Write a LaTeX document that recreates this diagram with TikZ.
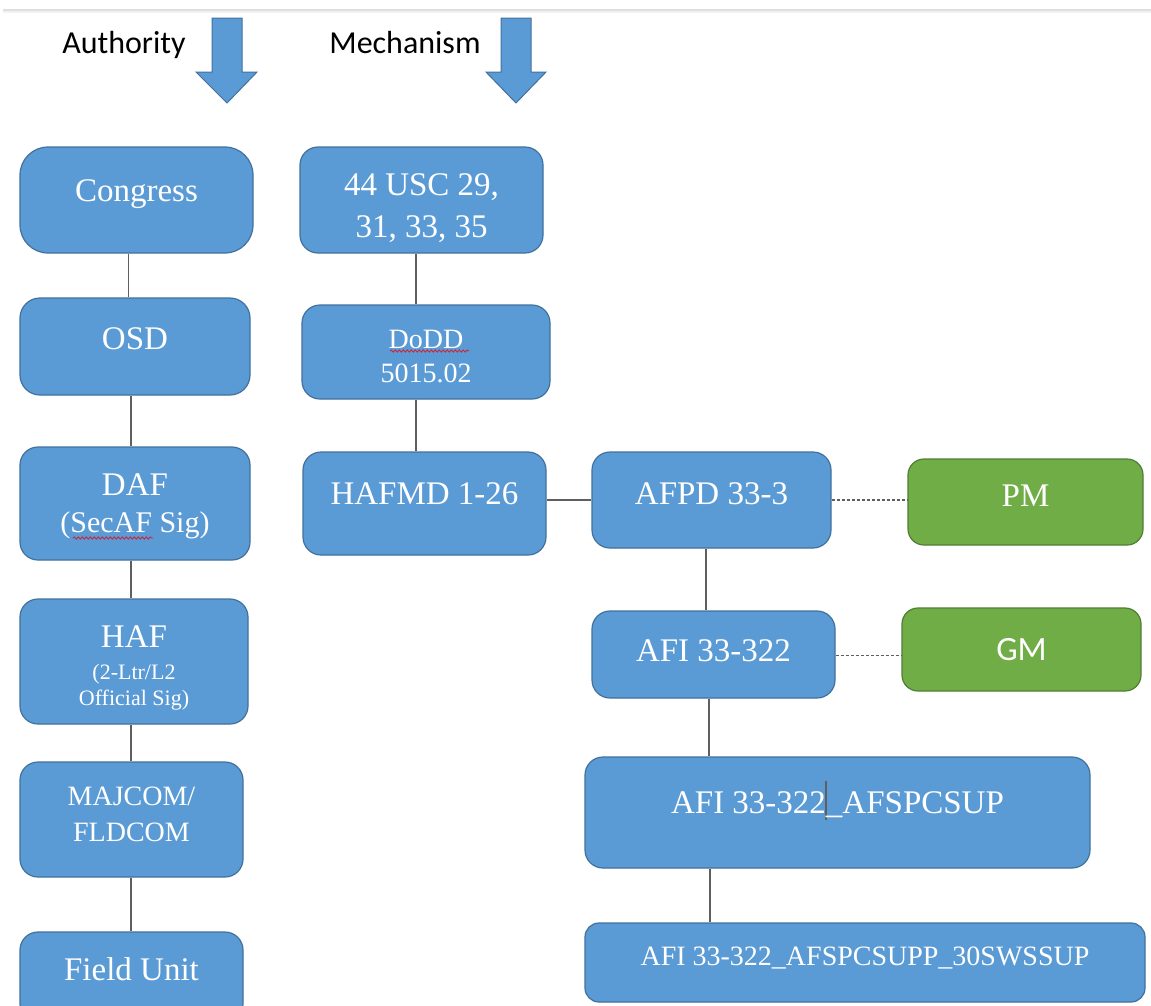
\documentclass[tikz,border=0pt]{standalone}
\usepackage{fontspec}
\setmainfont{Liberation Serif}
\newfontfamily\calibri{Carlito}
\usetikzlibrary{decorations.pathmorphing}
\definecolor{boxblue}{RGB}{91,155,213}
\definecolor{boxblueline}{RGB}{65,113,156}
\definecolor{boxgreen}{RGB}{112,173,71}
\definecolor{boxgreenline}{RGB}{80,126,50}
\definecolor{conn}{RGB}{95,95,95}
\definecolor{squig}{RGB}{200,40,60}
\newcommand\txtcursor{\rlap{\kern-0.5pt\textcolor{conn}{\rule[-0.22em]{1.2pt}{1.2em}}}}
\tikzset{
  bluebox/.style={draw=boxblueline, fill=boxblue, line width=1.2pt, inner sep=0pt, rounded corners=18pt},
  greenbox/.style={draw=boxgreenline, fill=boxgreen, line width=1.2pt, inner sep=0pt, rounded corners=16pt},
  btxt/.style={anchor=base, text=white, inner sep=0pt, font=\fontsize{33}{38}\selectfont},
  mtxt/.style={anchor=base, text=white, inner sep=0pt, font=\fontsize{28}{32}\selectfont},
  stxt/.style={anchor=base, text=white, inner sep=0pt, font=\fontsize{22}{26}\selectfont},
  htxt/.style={anchor=base, text=black, inner sep=0pt, font=\calibri\fontsize{32}{36}\selectfont},
  link/.style={draw=conn, line width=1.5pt},
  dlink/.style={draw=conn, line width=1.5pt, dash pattern=on 3pt off 2pt},
  bigarrow/.style={fill=boxblue, draw=boxblueline, line width=1pt, line join=miter},
  wavy/.style={draw=squig, line width=0.9pt, decorate, decoration={snake, amplitude=1.1pt, segment length=4pt}}
}
\begin{document}
\begin{tikzpicture}[x=1pt,y=-1pt]
\clip (0,0) rectangle (1151,1005);
\fill[white] (0,0) rectangle (1151,1005);
% top rule
\draw[gray!25, line width=1.5pt] (3,10) -- (1151,10);
\draw[gray!10, line width=1.5pt] (3,12) -- (1151,12);

% headings and block arrows
\node[htxt] (authority) at (124,53) {Authority};
\node[htxt] (mechanism) at (405,53) {Mechanism};
\draw[bigarrow] (212,18) -- (242,18) -- (242,72) -- (257,72) -- (227,103) -- (196,72) -- (212,72) -- cycle;
\draw[bigarrow] (501,18) -- (531,18) -- (531,72) -- (546,72) -- (516,103) -- (486,72) -- (501,72) -- cycle;

% left column (authority)
\node[bluebox, rounded corners=28pt, minimum width=233pt, minimum height=106pt] (congress) at (136.5,200) {};
\node[btxt] (congresst) at (136.5,201) {Congress};
\node[bluebox, rounded corners=20pt, minimum width=230pt, minimum height=97pt] (osd) at (135,346.5) {};
\node[btxt] (osdt) at (135,349) {OSD};
\node[bluebox, minimum width=230pt, minimum height=113pt] (daf) at (135,503.5) {};
\node[btxt] (daft) at (135,495) {DAF};
\node[btxt, font=\fontsize{30}{34}\selectfont] (dafs) at (135,532) {(SecAF Sig)};
\node[bluebox, minimum width=228pt, minimum height=125pt] (haf) at (134,661.5) {};
\node[btxt] (haft) at (134,647) {HAF};
\node[stxt] (hafs1) at (134,679) {(2-Ltr/L2};
\node[stxt] (hafs2) at (134,705) {Official Sig)};
\node[bluebox, minimum width=223pt, minimum height=115pt] (majcom) at (131.5,819.5) {};
\node[mtxt] (majcom1) at (131.5,805) {MAJCOM/};
\node[mtxt] (majcom2) at (131.5,841) {FLDCOM};
\node[bluebox, minimum width=223pt, minimum height=90pt] (field) at (131.5,977) {};
\node[btxt] (fieldt) at (131.5,980) {Field Unit};

% middle column (mechanism)
\node[bluebox, minimum width=243pt, minimum height=106pt] (usc) at (421.5,200) {};
\node[btxt] (usc1) at (421.5,195) {44 USC 29,};
\node[btxt] (usc2) at (421.5,237) {31, 33, 35};
\node[bluebox, minimum width=248pt, minimum height=94pt] (dodd) at (426,352) {};
\node[mtxt] (dodd1) at (426,348) {DoDD};
\node[mtxt] (dodd2) at (426,382) {5015.02};
\node[bluebox, minimum width=243pt, minimum height=103pt] (hafmd) at (424.5,503.5) {};
\node[btxt] (hafmdt) at (424.5,504) {HAFMD 1-26};

% right column
\node[bluebox, minimum width=239pt, minimum height=96pt] (afpd) at (711.5,500) {};
\node[btxt] (afpdt) at (711.5,504) {AFPD 33-3};
\node[greenbox, minimum width=235pt, minimum height=86pt] (pm) at (1025.5,502) {};
\node[btxt] (pmt) at (1025.5,506) {PM};
\node[bluebox, minimum width=243pt, minimum height=87pt] (afi) at (713.5,654.5) {};
\node[btxt] (afit) at (713.5,661) {AFI 33-322};
\node[greenbox, minimum width=239pt, minimum height=83pt] (gm) at (1021.5,649.5) {};
\node[btxt, font=\calibri\fontsize{34}{38}\selectfont] (gmt) at (1021.5,660) {GM};
\node[bluebox, minimum width=505pt, minimum height=111pt] (sup) at (837.5,812.5) {};
\node[btxt] (supt) at (837.5,813) {AFI 33-322\txtcursor\_AFSPCSUP};
\node[bluebox, rounded corners=14pt, minimum width=560pt, minimum height=79pt] (sup2) at (865,962.5) {};
\node[mtxt] (sup2t) at (865,965) {AFI 33-322\_AFSPCSUPP\_30SWSSUP};

% spell-check squiggles
\draw[wavy] (73,538) -- (153,538);
\draw[wavy] (390,351) -- (469,351);

% connectors
\draw[link] ([xshift=-8pt]congress.south) -- ([xshift=-8pt]congress.south |- osd.north);
\draw[link] ([xshift=-4pt]osd.south) -- ([xshift=-4pt]osd.south |- daf.north);
\draw[link] ([xshift=-4pt]daf.south) -- ([xshift=-4pt]daf.south |- haf.north);
\draw[link] ([xshift=-3pt]haf.south) -- ([xshift=-3pt]haf.south |- majcom.north);
\draw[link] ([xshift=-0.5pt]majcom.south) -- ([xshift=-0.5pt]majcom.south |- field.north);
\draw[link] ([xshift=-5.5pt]usc.south) -- ([xshift=-5.5pt]usc.south |- dodd.north);
\draw[link] ([xshift=-10pt]dodd.south) -- ([xshift=-10pt]dodd.south |- hafmd.north);
\draw[link] (hafmd.east |- afpd.west) -- (afpd.west);
\draw[link] ([xshift=-5.5pt]afpd.south) -- ([xshift=-5.5pt]afpd.south |- afi.north);
\draw[link] ([xshift=-4.5pt]afi.south) -- ([xshift=-4.5pt]afi.south |- sup.north);
\draw[link] ([xshift=-3.5pt]afi.south |- sup.south) -- ([xshift=-3.5pt]afi.south |- sup2.north);
\draw[dlink] (afpd.east) -- (afpd.east -| pm.west);
\draw[dlink] ([yshift=-1pt]afi.east) -- ([yshift=-1pt]afi.east -| gm.west);
\end{tikzpicture}
\end{document}
